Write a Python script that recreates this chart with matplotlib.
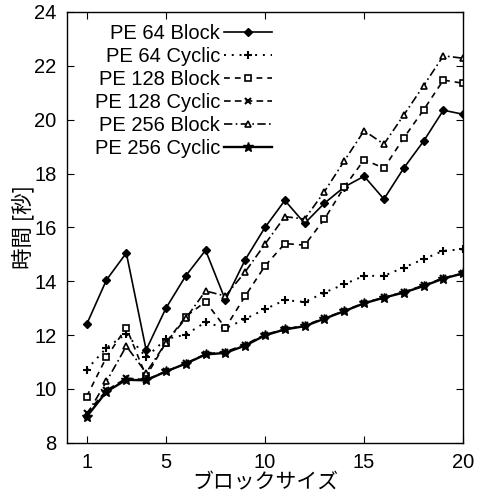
import matplotlib
matplotlib.use("Agg")
import matplotlib.pyplot as plt

plt.rcParams['font.family'] = ['Liberation Sans', 'Noto Sans CJK JP', 'DejaVu Sans']

block_size = list(range(1, 21))
pe64_block = [12.4, 14.05, 15.05, 11.45, 13.0, 14.2, 15.15, 13.3, 14.8, 16.0,
              17.0, 16.15, 16.9, 17.5, 17.9, 17.05, 18.2, 19.2, 20.35, 20.2]
pe64_cyclic = [10.72, 11.53, 12.05, 11.18, 11.85, 12.02, 12.48, 12.25, 12.6, 12.96,
               13.3, 13.23, 13.58, 13.89, 14.2, 14.2, 14.51, 14.82, 15.13, 15.19]
pe128_block = [9.72, 11.18, 12.28, 10.47, 11.72, 12.69, 13.24, 12.27, 13.45, 14.57,
               15.4, 15.34, 16.31, 17.5, 18.51, 18.2, 19.32, 20.36, 21.47, 21.35]
pe128_cyclic = [9.1, 9.95, 10.4, 10.35, 10.65, 10.95, 11.3, 11.38, 11.65, 12.02,
                12.22, 12.36, 12.63, 12.9, 13.2, 13.4, 13.6, 13.85, 14.12, 14.3]
pe256_block = [9.04, 10.28, 11.59, 10.6, 11.72, 12.62, 13.64, 13.45, 14.35, 15.38,
               16.4, 16.31, 17.33, 18.47, 19.59, 19.09, 20.17, 21.26, 22.37, 22.28]
pe256_cyclic = [8.97, 9.9, 10.34, 10.32, 10.65, 10.94, 11.28, 11.34, 11.61, 11.99,
                12.21, 12.33, 12.61, 12.89, 13.18, 13.39, 13.58, 13.82, 14.1, 14.29]

labels = ['PE 64 Block', 'PE 64 Cyclic', 'PE 128 Block', 'PE 128 Cyclic',
          'PE 256 Block', 'PE 256 Cyclic']
x_ticks = [1, 5, 10, 15, 20]
y_ticks = [8, 10, 12, 14, 16, 18, 20, 22, 24]

fig = plt.figure(figsize=(4.81, 4.97), dpi=100)
ax = fig.add_axes([0.139, 0.109, 0.824, 0.867])

lw = 1.2
ax.plot(block_size, pe64_block, color='black', lw=lw, ls='-', marker='D', ms=4,
        mfc='black', label=labels[0])
ax.plot(block_size, pe64_cyclic, color='black', lw=1.4, ls=(0, (1, 3)), marker='+', ms=6,
        mew=1.5, label=labels[1])
ax.plot(block_size, pe128_block, color='black', lw=lw, ls=(0, (3.5, 3)), marker='s', ms=5,
        mfc='white', mew=1.2, label=labels[2])
ax.plot(block_size, pe128_cyclic, color='black', lw=lw, ls=(0, (4, 2.5)), marker='x', ms=5,
        mew=1.5, label=labels[3])
ax.plot(block_size, pe256_block, color='black', lw=lw, ls=(0, (5, 2, 1, 2)), marker='^', ms=5,
        mfc='white', mew=1.2, label=labels[4])
ax.plot(block_size, pe256_cyclic, color='black', lw=1.7, ls='-', marker='*', ms=7,
        label=labels[5])

ax.set_xlim(0, 20)
ax.set_ylim(8, 24)
ax.set_xticks(x_ticks)
ax.set_yticks(y_ticks)
ax.tick_params(direction='in', top=True, right=True, labelsize=14.5, length=5)
ax.tick_params(axis='x', pad=7)
ax.tick_params(axis='y', pad=7.5)
for s in ax.spines.values():
    s.set_linewidth(1.0)

ax.set_xlabel('ブロックサイズ', fontsize=15, family=['Noto Sans CJK JP'], labelpad=0)
ax.set_ylabel('時間 [秒]', fontsize=15.5, family=['Noto Sans CJK JP'], labelpad=0)

leg = ax.legend(loc='upper right', bbox_to_anchor=(0.528, 0.981), frameon=False,
                markerfirst=False, fontsize=14.5, handlelength=2.38, handletextpad=0.2,
                labelspacing=0.2, borderpad=0.2, borderaxespad=0)
for col in leg._legend_handle_box.get_children():
    col.align = 'right'

fig.savefig('out.png', dpi=100)
